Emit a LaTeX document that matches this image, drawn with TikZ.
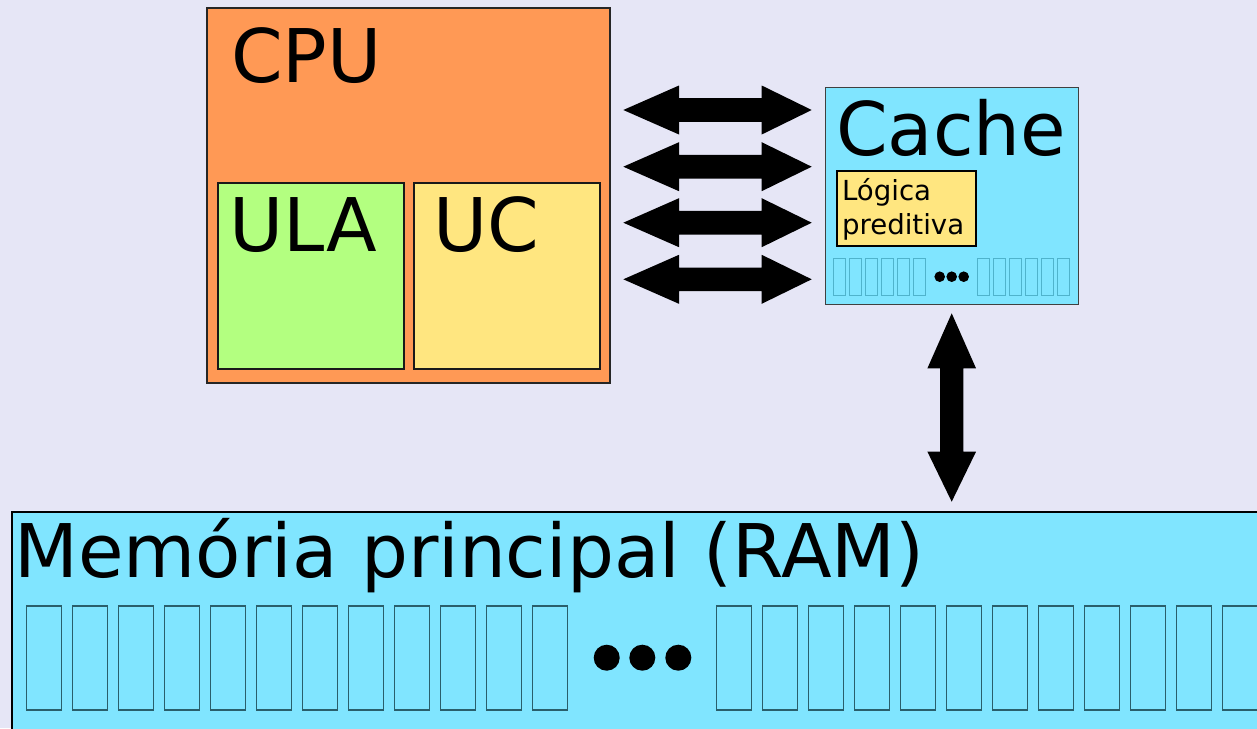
\documentclass[tikz,border=0pt]{standalone}
\usepackage{fontspec}
\setmainfont{DejaVu Sans}
\definecolor{bg}{HTML}{E6E6F6}
\definecolor{cpuorange}{HTML}{FF9955}
\definecolor{ulagreen}{HTML}{B3FF80}
\definecolor{ucyellow}{HTML}{FFE680}
\definecolor{memcyan}{HTML}{80E5FF}
\definecolor{ramcell}{HTML}{2A5F6B}
\definecolor{cachecell}{HTML}{4FB3CC}
\begin{document}
\begin{tikzpicture}[x=1pt,y=-1pt,
  box/.style={draw, inner sep=0pt, outer sep=0pt, anchor=north west},
  big/.style={inner sep=0pt, outer sep=0pt, anchor=base west, font=\fontsize{74}{88}\selectfont},
  small/.style={inner sep=0pt, outer sep=0pt, anchor=base west, font=\fontsize{27.6}{34}\selectfont},
  blockarrow/.style={fill=black},
  ramcellbox/.style={draw=ramcell, line width=1.3pt},
  cachecellbox/.style={draw=cachecell, line width=1pt}]
\useasboundingbox (0,0) rectangle (1257,728);
\clip (0,0) rectangle (1257,728);
\fill[bg] (0,0) rectangle (1257,728);

% CPU
\node[box, fill=cpuorange, draw=black!85, line width=1.3pt, minimum width=403pt, minimum height=375pt] (cpu) at (207,8) {};
\node[box, fill=ulagreen, draw=black!90, line width=2pt, minimum width=186pt, minimum height=186pt] (ula) at (218,183) {};
\node[box, fill=ucyellow, draw=black!90, line width=2pt, minimum width=186pt, minimum height=186pt] (uc) at (414,183) {};
\node[big] (cputxt) at (231,82) {CPU};
\node[big] (ulatxt) at (229,251) {ULA};
\node[big] (uctxt) at (433,251) {UC};

% Cache
\node[box, fill=memcyan, draw=black!75, line width=1pt, minimum width=253pt, minimum height=217pt] (cache) at (825,87) {};
\node[big] (cachetxt) at (836,155) {Cache};
\node[box, fill=ucyellow, draw=black, line width=2.5pt, minimum width=139pt, minimum height=75pt] (logic) at (837,171) {};
\node[small] (logic1) at (842,200) {Lógica};
\node[small] (logic2) at (842,234) {preditiva};
\foreach \i in {0,...,5} {
  \draw[cachecellbox] ({833.3+16*\i},258) rectangle ++(12.3,37);
  \draw[cachecellbox] ({977.3+16*\i},258) rectangle ++(12.3,37);
}
\foreach \x in {939.7,951.7,963.7} \fill[black] (\x,276.7) circle (5.3pt);

% RAM
\node[box, fill=memcyan, draw=black, line width=2pt, minimum width=1300pt, minimum height=300pt] (ram) at (12,512) {};
\node[big] (ramtxt) at (14.5,577) {Memória principal (RAM)};
\foreach \i in {0,...,11} {
  \draw[ramcellbox] ({26.7+46*\i},606) rectangle ++(35,104);
  \draw[ramcellbox] ({716.7+46*\i},606) rectangle ++(35,104);
}
\foreach \x in {606.7,642.3,678.3} \fill[black] (\x,657.7) circle (13pt);

% Buses CPU <-> Cache
\foreach \c in {110,166.7,222.7,279.3} {
  \fill[blockarrow] (623.3,\c) -- (679,{\c-24.5}) -- (679,{\c-11.8}) -- (761.7,{\c-11.8}) -- (761.7,{\c-24.5}) -- (811.7,\c)
    -- (761.7,{\c+24.5}) -- (761.7,{\c+11.8}) -- (679,{\c+11.8}) -- (679,{\c+24.5}) -- cycle;
}
% Bus Cache <-> RAM
\fill[blockarrow] (951.7,313.3) -- (976,368.3) -- (963.4,368.3) -- (963.4,451.7) -- (976,451.7) -- (951.7,501.7)
  -- (927.4,451.7) -- (940,451.7) -- (940,368.3) -- (927.4,368.3) -- cycle;
\end{tikzpicture}
\end{document}
